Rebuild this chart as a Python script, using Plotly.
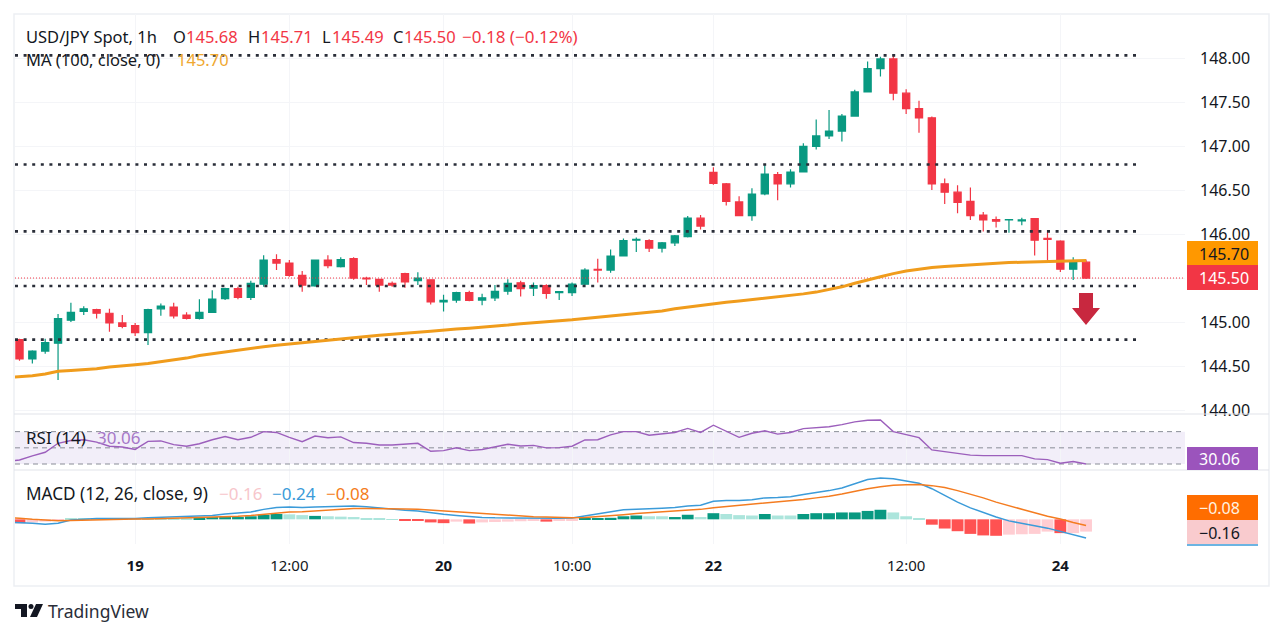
import plotly.graph_objects as go

bar_index = list(range(84))
opens = [144.80,144.58,144.67,144.76,145.02,145.12,145.14,145.10,144.99,144.96,144.88,145.15,145.17,145.08,145.04,145.11,145.265,145.38,145.28,145.43,145.71,145.67,145.53,145.41,145.705,145.63,145.72,145.50,145.485,145.44,145.55,145.47,145.48,
145.23,145.25,145.335,145.25,145.275,145.35,145.445,145.385,145.415,145.335,145.335,145.43,145.60,145.59,145.75,145.93,145.925,145.84,145.90,145.97,146.18,146.70,146.57,146.365,146.21,
146.455,146.675,146.57,146.705,146.995,147.115,147.17,147.34,147.615,147.88,147.99,147.60,147.425,147.32,146.57,146.475,146.37,146.215,146.165,146.16,146.15,146.174,145.95,145.92,145.60,145.68]
highs = [144.81,144.68,144.81,145.09,145.22,145.18,145.15,145.15,145.08,144.99,145.15,145.21,145.22,145.11,145.26,145.36,145.39,145.40,145.47,145.76,145.77,145.705,145.58,145.71,145.76,145.735,145.735,145.515,145.49,145.46,145.56,145.565,145.485,
145.31,145.345,145.355,145.32,145.42,145.485,145.47,145.45,145.43,145.35,145.45,145.61,145.72,145.825,145.95,145.96,145.94,145.91,145.99,146.205,146.215,146.76,146.58,146.43,146.52,
146.795,146.705,146.735,147.03,147.30,147.41,147.365,147.64,147.96,148.015,148.04,147.645,147.515,147.335,146.63,146.555,146.53,146.25,146.20,146.17,146.185,146.18,146.045,145.93,145.735,145.71]
lows = [144.56,144.53,144.64,144.34,145.00,145.08,145.04,144.89,144.93,144.84,144.74,145.07,145.04,145.03,145.03,145.105,145.25,145.26,145.25,145.40,145.59,145.515,145.345,145.40,145.61,145.62,145.48,145.42,145.345,145.40,145.39,145.42,145.20,
145.12,145.22,145.235,145.19,145.24,145.31,145.29,145.295,145.265,145.25,145.295,145.42,145.45,145.56,145.745,145.795,145.795,145.79,145.865,145.96,146.05,146.56,146.325,146.205,146.15,
146.44,146.385,146.53,146.705,146.96,147.08,147.05,147.34,147.615,147.79,147.52,147.365,147.15,146.50,146.34,146.235,146.16,146.03,146.075,146.015,146.10,145.757,145.70,145.568,145.477,145.49]
closes = [144.58,144.67,144.765,145.04,145.11,145.15,145.10,144.99,144.95,144.88,145.14,145.18,145.07,145.04,145.11,145.26,145.38,145.28,145.44,145.705,145.67,145.53,145.42,145.705,145.64,145.71,145.50,145.49,145.42,145.42,145.455,145.50,145.23,
145.245,145.335,145.245,145.275,145.35,145.44,145.38,145.415,145.325,145.345,145.43,145.59,145.59,145.75,145.925,145.94,145.84,145.90,145.98,146.18,146.09,146.575,146.37,146.21,146.455,
146.68,146.57,146.705,146.995,147.115,147.17,147.34,147.615,147.88,147.99,147.60,147.425,147.32,146.57,146.475,146.36,146.21,146.16,146.145,146.165,146.16,145.93,145.94,145.60,145.675,145.50]

# Indicator series start one bar left of the first candle (they run off the pane edge)
ind_index = list(range(-1, 84))
ma100 = [144.37,144.38,144.39,144.41,144.44,144.45,144.46,144.47,144.49,144.50,144.515,144.53,144.55,144.57,144.59,144.62,144.64,144.665,144.685,144.705,144.72,144.735,144.75,144.765,144.78,144.795,144.81,144.825,144.84,144.85,144.86,144.875,144.885,144.895,
144.91,144.92,144.93,144.94,144.95,144.965,144.98,144.99,145.0,145.01,145.025,145.04,145.055,145.07,145.08,145.095,145.11,145.125,145.15,145.17,145.19,145.21,145.225,145.24,145.255,145.27,
145.285,145.30,145.32,145.34,145.37,145.40,145.44,145.48,145.515,145.55,145.58,145.60,145.62,145.63,145.64,145.65,145.66,145.67,145.675,145.68,145.685,145.69,145.695,145.70,145.70]
rsi = [33,35,40,44.5,55.6,59,60,57,52,51,48,58,58.5,54,52,55,60,64,60,63,70,69,63,57.5,64.5,62.5,63.5,56.5,55.6,53.5,53.5,55,55.6,45.7,46.5,50,46.5,48,51.5,54.4,52.3,53,50,50.3,52,59.7,60,66,70,70,
65.5,67,69,74,69,78,70,63,68,71,67,69,73.7,75.3,76,78.6,82,84,84.4,70,66,62.6,47.4,45.3,43,41,40.4,40.4,40.4,40.4,36.3,35.4,31,33,30.06]
macd = [-.035,-.04,-.05,-.065,-.05,-.01,.0,.01,.01,.01,.01,.02,.025,.03,.035,.04,.05,.07,.08,.095,.13,.155,.16,.155,.16,.165,.17,.175,.165,.15,.13,.12,.11,.085,.065,.05,.035,.025,.02,.018,.015,.013,.015,.015,.017,.045,.07,.1,.125,.13,
.135,.145,.155,.175,.185,.235,.245,.245,.255,.28,.285,.295,.325,.35,.375,.41,.47,.52,.54,.53,.5,.47,.40,.31,.225,.15,.085,.03,-.02,-.055,-.085,-.115,-.16,-.205,-.243]
signal = [.02,.015,.0,-.01,-.02,-.015,-.01,-.005,.0,.0,.005,.005,.01,.015,.02,.02,.025,.035,.04,.05,.065,.08,.095,.1,.11,.12,.13,.14,.14,.14,.14,.135,.13,.12,.11,.095,.08,.07,.06,.05,.04,.035,.03,.025,.02,.025,.035,.045,.06,.075,
.085,.095,.105,.12,.13,.15,.165,.18,.195,.21,.225,.24,.26,.28,.30,.33,.365,.40,.425,.445,.45,.455,.44,.415,.375,.33,.28,.225,.175,.13,.085,.04,.005,-.04,-.08]
hist = [-.05,-.04,-.03,-.01,.005,.005,.01,.01,.01,.005,.01,.015,.015,.015,.025,.03,.03,.03,.04,.06,.07,.065,.055,.045,.04,.035,.03,.015,.01,.004,-.015,-.02,-.04,-.05,-.03,-.055,-.04,-.035,-.03,-.025,-.02,-.03,-.02,-.01,.01,.015,.02,.04,.05,
.04,.04,.03,.06,.03,.08,.07,.055,.05,.07,.05,.05,.07,.08,.08,.09,.09,.11,.125,.09,.04,.01,-.07,-.12,-.155,-.19,-.21,-.215,-.2,-.195,-.19,-.16,-.18,-.18,-.16]
# 1 = strong shade, 0 = pale shade
hist_strong = [1,0,0,0,0,0,0,0,0,0,0,0,0,0,1,1,1,1,1,1,1,0,0,1,0,0,0,0,0,0,1,1,1,1,0,1,0,0,0,0,0,1,0,0,1,1,1,1,1,
0,0,1,1,0,1,0,0,0,1,0,0,1,1,1,1,1,1,1,0,0,0,1,1,1,1,1,1,0,0,0,0,1,0,0]

support_resistance = [148.03,146.79,146.03,145.41,144.80]
level_end_bar = 87.0
price_ticks = [144.0,144.5,145.0,145.5,146.0,146.5,147.0,147.5,148.0]
time_tick_bars = [9,21,33,43,54,69,81]
time_tick_labels = ["<b>19</b>","12:00","<b>20</b>","10:00","<b>22</b>","12:00","<b>24</b>"]
rsi_bands = [70,50,30]

W, H = 1280, 637
FONT = "Noto Sans"
INK = "#131722"
RED, GREEN = "#F23645", "#089981"
def px(x): return x / W
def py(y): return 1 - y / H

X_RANGE = [-0.35, 90.7]
hist_colors = [
    ("#089981" if s else "#ACE5DC") if v >= 0 else ("#FF5252" if s else "#FFCDD2")
    for v, s in zip(hist, hist_strong)
]

fig = go.Figure()

for lvl in support_resistance:
    fig.add_trace(go.Scatter(x=[X_RANGE[0], level_end_bar], y=[lvl, lvl], mode="lines", yaxis="y",
                             line=dict(color="#2a2e39", width=2.6, dash="3px,5.6px"), hoverinfo="skip"))
fig.add_trace(go.Scatter(x=X_RANGE, y=[closes[-1], closes[-1]], mode="lines", yaxis="y",
                         line=dict(color=RED, width=1, dash="1px,2px"), hoverinfo="skip"))
fig.add_trace(go.Candlestick(
    x=bar_index, open=opens, high=highs, low=lows, close=closes, yaxis="y", whiskerwidth=0,
    increasing=dict(line=dict(color=GREEN, width=1.2), fillcolor=GREEN),
    decreasing=dict(line=dict(color=RED, width=1.2), fillcolor=RED), hoverinfo="skip"))
fig.add_trace(go.Scatter(x=ind_index, y=ma100, mode="lines", yaxis="y",
                         line=dict(color="#F09C1C", width=3), hoverinfo="skip"))

for b in rsi_bands:
    fig.add_trace(go.Scatter(x=X_RANGE, y=[b, b], mode="lines", yaxis="y2",
                             line=dict(color="#8a8d97", width=1, dash="5px,4px"), hoverinfo="skip"))
fig.add_trace(go.Scatter(x=ind_index, y=rsi, mode="lines", yaxis="y2",
                         line=dict(color="#9C5FBC", width=1.4), hoverinfo="skip"))

fig.add_trace(go.Bar(x=bar_index, y=hist, yaxis="y3", marker=dict(color=hist_colors, line=dict(width=0)),
                     hoverinfo="skip"))
fig.add_trace(go.Scatter(x=ind_index, y=macd, mode="lines", yaxis="y3",
                         line=dict(color="#3B9BD9", width=1.5), hoverinfo="skip"))
fig.add_trace(go.Scatter(x=ind_index, y=signal, mode="lines", yaxis="y3",
                         line=dict(color="#F47C20", width=1.5), hoverinfo="skip"))

grid = "#F4F5F8"
shapes = [
    dict(type="rect", xref="x", yref="y2", x0=X_RANGE[0], x1=X_RANGE[1], y0=30, y1=70,
         fillcolor="rgba(126,87,194,0.10)", line=dict(width=0), layer="below"),
    dict(type="rect", xref="paper", yref="paper", x0=px(14), x1=px(1269), y0=py(586), y1=py(14),
         line=dict(color="#EDEFF3", width=1.5), layer="below"),
    dict(type="line", xref="paper", yref="paper", x0=px(14), x1=px(1269), y0=py(414), y1=py(414),
         line=dict(color="#E2E4EA", width=1.2), layer="above"),
    dict(type="line", xref="paper", yref="paper", x0=px(14), x1=px(1269), y0=py(470), y1=py(470),
         line=dict(color="#E2E4EA", width=1.2), layer="above"),
]
def box(x0, y0, x1, y1, color):
    shapes.append(dict(type="rect", xref="paper", yref="paper", x0=px(x0), x1=px(x1), y0=py(y1), y1=py(y0),
                       fillcolor=color, line=dict(width=0), layer="above"))
box(1187, 241, 1258, 265, "#FF9800")
box(1187, 265, 1258, 290, RED)
box(1187, 447, 1258, 470, "#9B54BC")
box(1187, 495, 1258, 520, "#FF6D00")
box(1187, 520, 1258, 544, "#F9CBCE")
shapes.append(dict(type="line", xref="paper", yref="paper", x0=px(1187), x1=px(1258), y0=py(545), y1=py(545),
                   line=dict(color="#3B9BD9", width=1.5), layer="above"))

def poly(points, color):
    d = "M " + " L ".join(f"{px(a):.5f},{py(b):.5f}" for a, b in points) + " Z"
    shapes.append(dict(type="path", xref="paper", yref="paper", path=d, fillcolor=color, line=dict(width=0), layer="above"))
poly([(1079,293),(1093,293),(1093,308),(1100,308),(1086,325),(1072,308),(1079,308)], "#C8283F")
poly([(15,604),(27,604),(27,617),(21,617),(21,609),(15,609)], "#131722")
poly([(36,604),(43,604),(37,617),(30,617)], "#131722")
shapes.append(dict(type="circle", xref="paper", yref="paper", x0=px(28.5), x1=px(33.5), y0=py(609), y1=py(604),
                   fillcolor="#131722", line=dict(width=0), layer="above"))

anns = []
def label(x, y, text, color=INK, size=16.5):
    anns.append(dict(xref="paper", yref="paper", x=px(x - 2), y=py(y), xanchor="left", yanchor="middle",
                     text=text, showarrow=False, font=dict(family=FONT, size=size, color=color)))

label(26, 36, "USD/JPY Spot, 1h")
label(173, 36, "O"); label(186, 36, f"{opens[-1]:.2f}", RED)
label(248, 36, "H"); label(261, 36, f"{highs[-1]:.2f}", RED)
label(322, 36, "L"); label(332, 36, f"{lows[-1]:.2f}", RED)
label(393, 36, "C"); label(404, 36, f"{closes[-1]:.2f}", RED)
label(462, 36, "\u22120.18 (\u22120.12%)", RED, 17)
label(26, 60, "MA (100, close, 0)", size=16.5)
label(177, 60, f"{ma100[-1]:.2f}", "#F0A830")
label(26, 437, "RSI (14)", size=17)
label(97, 437, f"{rsi[-1]:.2f}", "#A678C8", 17)
label(26, 493, "MACD (12, 26, close, 9)", size=17.2)
label(219, 493, f"\u2212{abs(hist[-1]):.2f}", "#F7C6CB", 17)
label(272, 493, f"\u2212{abs(macd[-1]):.2f}", "#3B9BD9", 17)
label(326, 493, f"\u2212{abs(signal[-1]):.2f}", "#F47C20", 17)
label(1199, 254, f"{ma100[-1]:.2f}", INK, 16)
label(1199, 278, f"{closes[-1]:.2f}", "#FFFFFF", 16)
label(1199, 459, f"{rsi[-1]:.2f}", "#FFFFFF", 16)
label(1199, 508, f"\u2212{abs(signal[-1]):.2f}", "#FFF3E0", 16)
label(1199, 533, f"\u2212{abs(hist[-1]):.2f}", INK, 16)
label(48, 611, "TradingView", "#2a2e39", 17.5)

D = [px(15), px(1185)]
fig.update_layout(
    width=W, height=H, margin=dict(l=0, r=0, t=0, b=0, pad=0, autoexpand=False),
    paper_bgcolor="white", plot_bgcolor="white",
    showlegend=False, boxgap=0.2, bargap=0.08, shapes=shapes, annotations=anns, hovermode=False,
    font=dict(family=FONT, color=INK),
    xaxis=dict(domain=D, range=X_RANGE, anchor="y3", rangeslider=dict(visible=False), automargin=False,
               tickmode="array", tickvals=time_tick_bars, ticktext=time_tick_labels,
               tickfont=dict(size=15, color=INK), ticks="", ticklabelstandoff=11,
               showgrid=True, gridcolor=grid, gridwidth=1, zeroline=False, showline=False),
    yaxis=dict(domain=[py(414), py(14)], range=[143.955, 148.5], side="right", anchor="x", automargin=False,
               tickmode="array", tickvals=price_ticks, tickformat=".2f",
               tickfont=dict(size=16, color=INK), ticks="", ticklabelstandoff=14,
               showgrid=True, gridcolor=grid, gridwidth=1, zeroline=False, showline=False),
    yaxis2=dict(domain=[py(470), py(414)], range=[22.6, 91.8], anchor="x", showticklabels=False,
                showgrid=False, zeroline=False, showline=False, ticks=""),
    yaxis3=dict(domain=[py(544), py(470)], range=[-0.322, 0.644], anchor="x", showticklabels=False,
                showgrid=False, zeroline=False, showline=False, ticks=""),
)

fig.write_html("out.html", config=dict(displayModeBar=False),
               post_script="document.body.style.margin='0';document.body.style.overflow='hidden';")
